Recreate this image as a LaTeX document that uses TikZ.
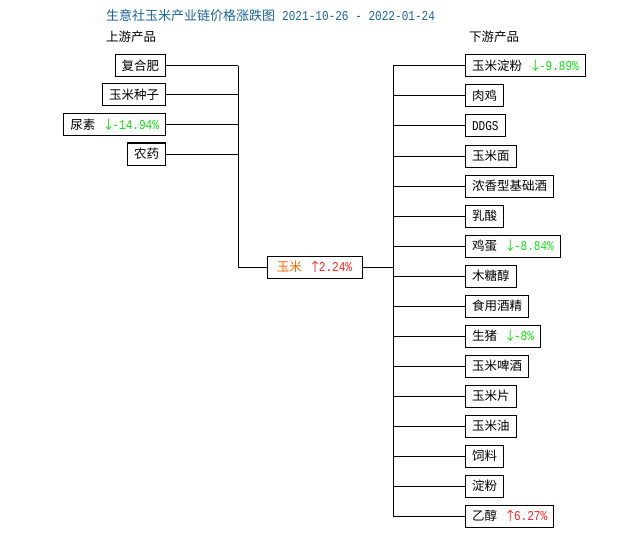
\documentclass[tikz,border=0pt]{standalone}
\usepackage{fontspec}
\newfontfamily\cjk{Noto Sans CJK SC}
\newfontfamily\mono[FakeStretch=0.82]{Liberation Mono}
\definecolor{titleblue}{HTML}{1A6496}
\definecolor{upgreen}{HTML}{11DD11}
\definecolor{upred}{HTML}{FF2020}
\definecolor{cornorange}{HTML}{FF6600}
\newcommand\monofs{\mono\fontsize{13.5}{15}\selectfont}
\newcommand\dnval[1]{\hspace{7pt}{\color{upgreen}↓\hspace{-2.5pt}{\monofs#1}}}
\newcommand\upval[1]{\hspace{7pt}{\color{upred}↑\hspace{-2.5pt}{\monofs#1}}}
\begin{document}
\begin{tikzpicture}[x=1pt,y=-1pt,
  box/.style={draw=black, line width=1pt, fill=white, minimum height=22pt,
    inner xsep=6.5pt, inner ysep=0pt, font=\cjk\fontsize{12.5}{14}\selectfont, text=black},
  lbox/.style={box, anchor=east},
  rbox/.style={box, anchor=west},
  conn/.style={line width=1pt, draw=black},
  head/.style={inner sep=0pt, anchor=west, font=\cjk\fontsize{12.5}{14}\selectfont}]
\useasboundingbox (0,0) rectangle (630,535);
\node[head, text=titleblue] (title) at (106,16) {{\fontsize{13}{15}\selectfont 生意社玉米产业链价格涨跌图}\hspace{7pt}{\monofs 2021-10-26 - 2022-01-24}};
\node[head] (up) at (106,37) {上游产品};
\node[head] (down) at (469,37) {下游产品};
% trunks
\coordinate (L) at (238,0);
\coordinate (R) at (393,0);
% left
\node[lbox] (l1) at (166,66) {复合肥};
\node[lbox] (l2) at (166,95) {玉米种子};
\node[lbox] (l3) at (166,125) {尿素\dnval{-14.94\%}};
\node[lbox] (l4) at (166,154) {农药};
% center
\node[box, minimum width=95pt] (c) at (314.5,267) {{\color{cornorange}玉米}\upval{2.24\%}};
% right
\node[rbox] (r1) at (465,66) {玉米淀粉\dnval{-9.89\%}};
\node[rbox] (r2) at (465,96) {肉鸡};
\node[rbox] (r3) at (465,126) {\monofs DDGS};
\node[rbox] (r4) at (465,156) {玉米面};
\node[rbox] (r5) at (465,186) {浓香型基础酒};
\node[rbox] (r6) at (465,216) {乳酸};
\node[rbox] (r7) at (465,246) {鸡蛋\dnval{-8.84\%}};
\node[rbox] (r8) at (465,276) {木糖醇};
\node[rbox] (r9) at (465,306) {食用酒精};
\node[rbox] (r10) at (465,336) {生猪\dnval{-8\%}};
\node[rbox] (r11) at (465,366) {玉米啤酒};
\node[rbox] (r12) at (465,396) {玉米片};
\node[rbox] (r13) at (465,426) {玉米油};
\node[rbox] (r14) at (465,456) {饲料};
\node[rbox] (r15) at (465,486) {淀粉};
\node[rbox] (r16) at (465,516) {乙醇\upval{6.27\%}};
% left connectors
\foreach \n in {l1,l2,l3,l4} \draw[conn] (\n.east) -- (\n.east -| L);
\draw[conn] (l1.east -| L) -- (L |- c.west) -- (c.west);
% right connectors
\draw[conn] (c.east) -- (c.east -| R);
\draw[conn] (R |- r1.west) -- (R |- r16.west);
\foreach \n in {r1,r2,r3,r4,r5,r6,r7,r8,r9,r10,r11,r12,r13,r14,r15,r16} \draw[conn] (R |- \n.west) -- (\n.west);
\end{tikzpicture}
\end{document}
